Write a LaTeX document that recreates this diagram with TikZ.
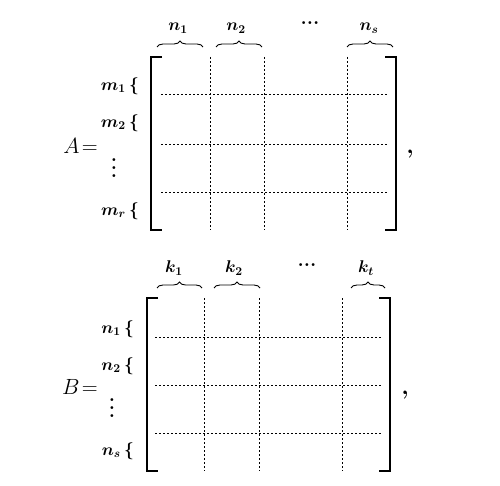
\RequirePackage{fix-cm}
\documentclass[tikz,border=0pt]{standalone}
\usetikzlibrary{decorations.pathreplacing}
\newcommand{\myvdots}{\vbox{\baselineskip=8pt\lineskiplimit=0pt\hbox{.}\hbox{.}\hbox{.}}}
\begin{document}
\begin{tikzpicture}[x=1pt,y=-1pt,
  grid/.style={line width=0.8pt, dash pattern=on 2pt off 2pt},
  brk/.style={line width=1.5pt},
  hbrace/.style={decorate, decoration={brace,amplitude=6pt}, line width=0.9pt},
  lbl/.style={font=\fontsize{17}{19}\selectfont\boldmath, inner sep=0pt},
  dts/.style={font=\fontsize{20}{22}\selectfont\bfseries, inner sep=0pt},
  big/.style={font=\fontsize{22}{24}\selectfont, inner sep=0pt},
  cma/.style={font=\fontsize{24}{26}\selectfont\bfseries, inner sep=0pt}]
\useasboundingbox (0,0) rectangle (500,486);

% ---------- Matrix A ----------
\draw[brk] (162,57) -- (151,57) -- (151,230) -- (162,230);
\draw[brk] (385,57) -- (396,57) -- (396,230) -- (385,230);
\foreach \x in {210,264,347} \draw[grid] (\x,57) -- (\x,230);
\foreach \y in {94,144,192} \draw[grid] (161,\y) -- (387,\y);

\coordinate (a1l) at (157,47); \coordinate (a1r) at (203,47);
\coordinate (a2l) at (216,47); \coordinate (a2r) at (262,47);
\coordinate (a3l) at (347,47); \coordinate (a3r) at (393,47);
\draw[hbrace] (a1l) -- (a1r);
\draw[hbrace] (a2l) -- (a2r);
\draw[hbrace] (a3l) -- (a3r);
\node[lbl] (an1) at (178,28) {$n_1$};
\node[lbl] (an2) at (236,28) {$n_2$};
\node[dts, anchor=base] (adots) at (310,25) {...};
\node[lbl] (ans) at (369,28) {$n_s$};

\node[lbl, anchor=east] (am1) at (139,86) {$m_1\,\{$};
\node[lbl, anchor=east] (am2) at (139,123) {$m_2\,\{$};
\node[dts] (avd) at (114,168) {\myvdots};
\node[lbl, anchor=east] (amr) at (139,211) {$m_r\,\{$};

\node[big, anchor=base east] (Aeq) at (98,154) {$A\!=$};
\node[cma, anchor=base] (Acomma) at (410,154) {,};

% ---------- Matrix B ----------
\draw[brk] (158,298) -- (147,298) -- (147,471) -- (158,471);
\draw[brk] (379,298) -- (390,298) -- (390,471) -- (379,471);
\foreach \x in {204,259,342} \draw[grid] (\x,298) -- (\x,471);
\foreach \y in {337,385,433} \draw[grid] (155,\y) -- (382,\y);

\coordinate (b1l) at (157,288); \coordinate (b1r) at (202,288);
\coordinate (b2l) at (214,288); \coordinate (b2r) at (260,288);
\coordinate (b3l) at (351,288); \coordinate (b3r) at (385,288);
\draw[hbrace] (b1l) -- (b1r);
\draw[hbrace] (b2l) -- (b2r);
\draw[hbrace] (b3l) -- (b3r);
\node[lbl] (bk1) at (174,268) {$k_1$};
\node[lbl] (bk2) at (234,268) {$k_2$};
\node[dts, anchor=base] (bdots) at (307,266) {...};
\node[lbl] (bkt) at (366,268) {$k_t$};

\node[lbl, anchor=east] (bn1) at (134,329) {$n_1\,\{$};
\node[lbl, anchor=east] (bn2) at (134,366) {$n_2\,\{$};
\node[dts] (bvd) at (112,408) {\myvdots};
\node[lbl, anchor=east] (bns) at (134,451) {$n_s\,\{$};

\node[big, anchor=base east] (Beq) at (98,394) {$B\!=$};
\node[cma, anchor=base] (Bcomma) at (405,394) {,};
\end{tikzpicture}
\end{document}
